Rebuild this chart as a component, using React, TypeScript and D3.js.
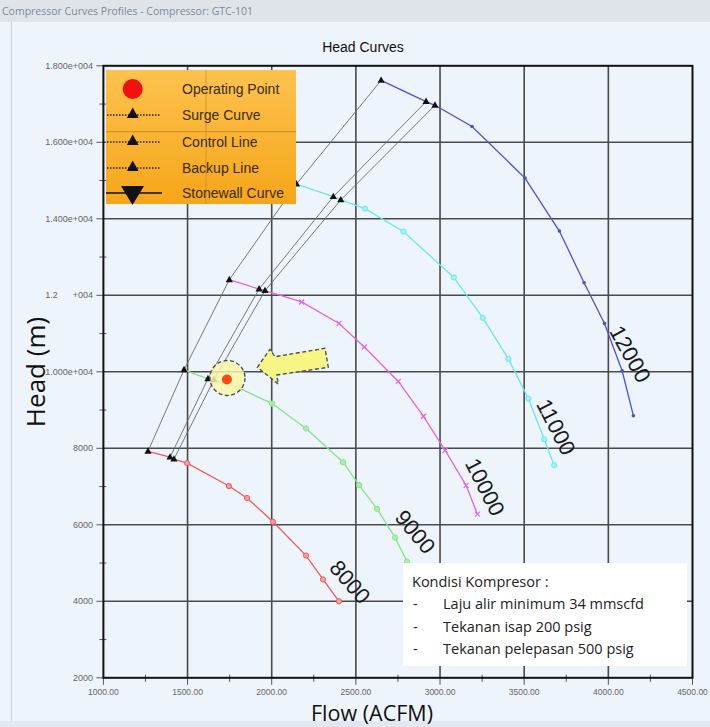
import React from "react";
import * as d3 from "d3";

// ---- Data ----
const speeds = [8000, 9000, 10000, 11000, 12000];
const flow8000 = [1265, 1396, 1419, 1497, 1746, 1853, 2008, 2204, 2305, 2400];
const head8000 = [7922, 7767, 7715, 7611, 7013, 6702, 6079, 5196, 4572, 4001];
const flow9000 = [1479, 1621, 1657, 1800, 2002, 2204, 2424, 2519, 2626, 2733, 2804];
const head9000 = [10052, 9818, 9792, 9584, 9169, 8520, 7637, 7039, 6416, 5663, 5040];
const flow10000 = [1748, 1925, 1960, 2178, 2400, 2550, 2752, 2901, 3030, 3155, 3222];
const head10000 = [12407, 12163, 12122, 11826, 11265, 10649, 9748, 8839, 7948, 7032, 6278];
const flow11000 = [2147, 2366, 2410, 2554, 2782, 3082, 3254, 3406, 3525, 3619, 3678];
const head11000 = [14908, 14579, 14493, 14267, 13670, 12467, 11410, 10338, 9299, 8234, 7559];
const flow12000 = [2650, 2917, 2970, 3190, 3505, 3709, 3856, 3977, 4082, 4149];
const head12000 = [17617, 17064, 16968, 16415, 15064, 13680, 12330, 11265, 10026, 8850];

const operatingFlow = 1734;
const operatingHead = 9800;

const xTicks = [1000, 1500, 2000, 2500, 3000, 3500, 4000, 4500];
const xTickLabels = ["1000.00", "1500.00", "2000.00", "2500.00", "3000.00", "3500.00", "4000.00", "4500.00"];
const yTicks = [2000, 4000, 6000, 8000, 10000, 12000, 14000, 16000, 18000];
const yTickLabels = ["2000", "4000", "6000", "8000", "1.000e+004", "1.2      +004", "1.400e+004", "1.600e+004", "1.800e+004"];

const labelFlow = [2465, 2852, 3267, 3689, 4129];
const labelHead = [4504, 5811, 6987, 8556, 10464];
const labelAngle = [49, 50, 63, 63, 61];

const legendItems = ["Operating Point", "Surge Curve", "Control Line", "Backup Line", "Stonewall Curve"];
const noteLines = ["Laju alir minimum 34 mmscfd", "Tekanan isap 200 psig", "Tekanan pelepasan 500 psig"];

const curveColors = ["#f05a5a", "#86e486", "#e064e0", "#66e8ee", "#4f4fd6"];

export default function App() {
  const W = 710, H = 727;
  const x = d3.scaleLinear().domain([1000, 4500]).range([103.4, 692.5]);
  const y = d3.scaleLinear().domain([2000, 18000]).range([677.8, 65.8]);

  const flows = [flow8000, flow9000, flow10000, flow11000, flow12000];
  const heads = [head8000, head9000, head10000, head11000, head12000];
  const curves = flows.map((f, i) => f.map((v, j) => [v, heads[i][j]] as [number, number]));

  const line = d3.line<[number, number]>().x((d) => x(d[0])).y((d) => y(d[1]));

  // surge (0), control (1), backup (2) lines link first points
  const links = [0, 1, 2].map((k) => curves.map((c) => c[k]));

  const minorX = d3.range(1250, 4500, 500);
  const minorY = d3.range(3000, 18000, 2000);

  const font = "'Liberation Sans', Arial, sans-serif";
  const ofont = "'Open Sans', 'Noto Sans', sans-serif";

  const tri = (cx: number, cy: number, s: number) =>
    `M${cx},${cy - s} L${cx + s * 0.9},${cy + s * 0.6} L${cx - s * 0.9},${cy + s * 0.6} Z`;

  const marker = (i: number, px: number, py: number, key: string) => {
    const c = curveColors[i];
    if (i === 2) {
      return (
        <path key={key} d={`M${px - 2.5},${py - 2.5}L${px + 2.5},${py + 2.5}M${px - 2.5},${py + 2.5}L${px + 2.5},${py - 2.5}`} stroke={c} strokeWidth={1.2} />
      );
    }
    if (i === 4) return <circle key={key} cx={px} cy={py} r={1.8} fill={c} />;
    return <circle key={key} cx={px} cy={py} r={2.6} fill={i === 0 ? "#f7a0a0" : i === 1 ? "#a8f0a8" : "#a0f4f6"} stroke={c} strokeWidth={1} />;
  };

  const legRowY = [89, 115, 142, 168, 193];

  const ox = x(operatingFlow), oy = y(operatingHead);

  return (
    <svg width={W} height={H} style={{ position: "absolute", left: 0, top: 0 }} xmlns="http://www.w3.org/2000/svg">
      <defs>
        <linearGradient id="leg" x1="0" y1="0" x2="0" y2="1">
          <stop offset="0" stopColor="#fdc24e" />
          <stop offset="1" stopColor="#f6a619" />
        </linearGradient>
      </defs>
      <rect x={0} y={0} width={W} height={H} fill="#eef4fb" />
      {/* window title bar */}
      <rect x={0} y={0} width={W} height={22} fill="#dfe4ea" />
      <text x={2} y={15} fontFamily={ofont} fontSize={10.5} fill="#7d8a98">Compressor Curves Profiles - Compressor: GTC-101</text>
      <line x1={11.5} y1={22} x2={11.5} y2={H} stroke="#c9d0d8" />
      <rect x={0} y={721} width={W} height={6} fill="#e2e8ef" />

      <text x={363} y={52} textAnchor="middle" fontFamily={font} fontSize={14} fill="#111">Head Curves</text>

      {/* gridlines */}
      {xTicks.slice(1, -1).map((t) => (
        <line key={"gx" + t} x1={x(t)} x2={x(t)} y1={y(18000)} y2={y(2000)} stroke="#4a4a4a" strokeWidth={1.6} />
      ))}
      {yTicks.slice(1, -1).map((t) => (
        <line key={"gy" + t} x1={x(1000)} x2={x(4500)} y1={y(t)} y2={y(t)} stroke="#4a4a4a" strokeWidth={1.6} />
      ))}

      {/* ticks */}
      {xTicks.map((t) => (
        <line key={"tx" + t} x1={x(t)} x2={x(t)} y1={y(2000)} y2={y(2000) + 7} stroke="#555" strokeWidth={1} />
      ))}
      {minorX.map((t) => (
        <line key={"mx" + t} x1={x(t)} x2={x(t)} y1={y(2000) - 3} y2={y(2000) + 4} stroke="#555" strokeWidth={1} />
      ))}
      {yTicks.map((t) => (
        <line key={"ty" + t} x1={x(1000) - 7} x2={x(1000)} y1={y(t)} y2={y(t)} stroke="#555" strokeWidth={1} />
      ))}
      {minorY.map((t) => (
        <line key={"my" + t} x1={x(1000) - 4} x2={x(1000) + 3} y1={y(t)} y2={y(t)} stroke="#555" strokeWidth={1} />
      ))}
      {xTicks.map((t, i) => (
        <text key={"lx" + t} x={x(t)} y={694.5} textAnchor="middle" fontFamily={font} fontSize={8.5} fill="#666">{xTickLabels[i]}</text>
      ))}
      {yTicks.map((t, i) => (
        <text key={"ly" + t} x={93} y={y(t) + 3} textAnchor="end" fontFamily={font} fontSize={9} fill="#666" style={{ whiteSpace: "pre" }}>{yTickLabels[i]}</text>
      ))}

      {/* surge / control / backup lines */}
      {links.map((l, k) => (
        <path key={"lk" + k} d={line(l) || ""} fill="none" stroke="#6a6a6a" strokeWidth={0.9} />
      ))}

      {/* speed curves */}
      {curves.map((c, i) => (
        <g key={"c" + i}>
          <path d={line(c) || ""} fill="none" stroke={curveColors[i]} strokeWidth={1.3} />
          {c.slice(3).map((p, j) => marker(i, x(p[0]), y(p[1]), `m${i}-${j}`))}
          {c.slice(0, 3).map((p, j) => (
            <path key={`t${i}-${j}`} d={tri(x(p[0]), y(p[1]), 4)} fill="#111" />
          ))}
        </g>
      ))}

      {/* highlight circle and operating point */}
      <circle cx={ox + 0.5} cy={oy - 1.5} r={17.5} fill="#f8f6a8" fillOpacity={0.85} stroke="#4a5058" strokeWidth={1.4} strokeDasharray="4,2.5" />
      <circle cx={ox} cy={oy} r={5} fill="#ff4a14" />
      <polygon
        points="257.3,367.3 270,349.3 275,356.7 325,348.3 328.3,367.3 276.7,375 278.3,384"
        fill="#f6f684"
        stroke="#4a5058"
        strokeWidth={1.4}
        strokeDasharray="4,2.5"
        strokeLinejoin="round"
      />

      {/* speed labels */}
      {speeds.map((s, i) => (
        <text
          key={"sl" + s}
          transform={`translate(${x(labelFlow[i])},${y(labelHead[i])}) rotate(${labelAngle[i]})`}
          textAnchor="middle"
          dominantBaseline="central"
          fontFamily={font}
          fontSize={22}
          fill="#1a1a1a"
        >
          {s}
        </text>
      ))}

      {/* frame */}
      <rect x={x(1000)} y={y(18000)} width={x(4500) - x(1000)} height={y(2000) - y(18000)} fill="none" stroke="#111" strokeWidth={2} />

      {/* legend */}
      <rect x={106} y={70} width={190} height={134} fill="url(#leg)" />
      <line x1={106} x2={296} y1={131.7} y2={131.7} stroke="#b87a14" strokeWidth={1} opacity={0.7} />
      <line x1={206} x2={206} y1={70} y2={204} stroke="#b87a14" strokeWidth={1} opacity={0.5} />
      <circle cx={132.7} cy={legRowY[0]} r={10} fill="#f21010" />
      {[1, 2, 3].map((r) => (
        <g key={"lr" + r}>
          <line x1={107} x2={160} y1={legRowY[r]} y2={legRowY[r]} stroke="#222" strokeWidth={1.5} strokeDasharray="1.5,1.5" />
          <path d={tri(132.7, legRowY[r] - 1, 6.5)} fill="#111" />
        </g>
      ))}
      <line x1={106} x2={162} y1={legRowY[4]} y2={legRowY[4]} stroke="#111" strokeWidth={1.6} />
      <path d={`M121,${legRowY[4] - 7} L144,${legRowY[4] - 7} L132.5,${legRowY[4] + 12} Z`} fill="#111" />
      {legendItems.map((t, i) => (
        <text key={"lt" + i} x={182} y={legRowY[i] + 5} fontFamily={font} fontSize={14} fill="#3a2a0c">{t}</text>
      ))}

      {/* note box */}
      <rect x={403} y={563} width={284} height={103} fill="#ffffff" />
      <text x={412} y={587} fontFamily={ofont} fontSize={14.5} fill="#222">Kondisi Kompresor :</text>
      {noteLines.map((t, i) => (
        <g key={"nl" + i}>
          <text x={413} y={609 + i * 22.5} fontFamily={ofont} fontSize={14.5} fill="#222">-</text>
          <text x={443} y={609 + i * 22.5} fontFamily={ofont} fontSize={14.5} fill="#222">{t}</text>
        </g>
      ))}

      {/* axis titles */}
      <text transform="translate(45,372) rotate(-90)" textAnchor="middle" fontFamily={ofont} fontSize={26} fill="#111">Head (m)</text>
      <text x={372} y={721} textAnchor="middle" fontFamily={ofont} fontSize={21.5} fill="#111">Flow (ACFM)</text>
    </svg>
  );
}
